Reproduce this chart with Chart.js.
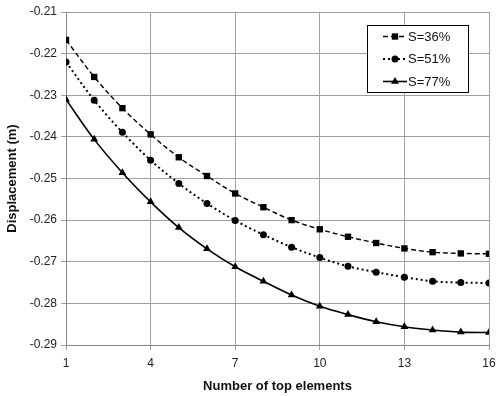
<!DOCTYPE html>
<html>
<head>
<meta charset="utf-8">
<script src="https://cdn.jsdelivr.net/npm/chart.js@4/dist/chart.umd.min.js"></script>
<style>
  html, body { margin: 0; padding: 0; background: #fff; }
  #wrap { width: 500px; height: 396px; }
</style>
</head>
<body>
<div id="wrap"><canvas id="dispChart" width="500" height="396"></canvas></div>
<script>
// number of top elements
const elements = [1, 2, 3, 4, 5, 6, 7, 8, 9, 10, 11, 12, 13, 14, 15, 16];
const seriesNames = ["S=36%", "S=51%", "S=77%"];
// displacement (m)
const s36 = [-0.2167, -0.2256, -0.2331, -0.2394, -0.2449, -0.2494, -0.2536, -0.2569,
             -0.2600, -0.2622, -0.2640, -0.2655, -0.2668, -0.2677, -0.2680, -0.2681];
const s51 = [-0.2220, -0.2312, -0.2389, -0.2456, -0.2512, -0.2560, -0.2601, -0.2635,
             -0.2665, -0.2690, -0.2711, -0.2725, -0.2737, -0.2747, -0.2750, -0.2751];
const s77 = [-0.2310, -0.2406, -0.2486, -0.2556, -0.2618, -0.2669, -0.2712, -0.2747,
             -0.2780, -0.2807, -0.2827, -0.2844, -0.2856, -0.2864, -0.2869, -0.2870];
const xTicks = [1, 4, 7, 10, 13, 16];
const yTicks = [-0.21, -0.22, -0.23, -0.24, -0.25, -0.26, -0.27, -0.28, -0.29];

function toPoints(vals) {
    return elements.map((x, i) => ({ x: x, y: vals[i] }));
}

// legend drawn in a box inside the plot, like the original
const boxLegend = {
    id: "boxLegend",
    afterDraw(chart) {
        const ctx = chart.ctx;
        const x0 = 367, y0 = 25, w = 101, h = 67;
        ctx.save();
        ctx.fillStyle = "#fff";
        ctx.fillRect(x0, y0, w, h);
        ctx.strokeStyle = "#000";
        ctx.lineWidth = 1;
        ctx.strokeRect(x0 + 0.5, y0 + 0.5, w, h);
        chart.data.datasets.forEach((ds, i) => {
            const y = 36.5 + i * 22.5;
            ctx.strokeStyle = ds.borderColor;
            ctx.lineWidth = ds.borderWidth;
            ctx.setLineDash(ds.borderDash || []);
            ctx.beginPath();
            ctx.moveTo(383, y);
            ctx.lineTo(407, y);
            ctx.stroke();
            ctx.setLineDash([]);
            ctx.fillStyle = ds.pointBackgroundColor;
            Chart.helpers.drawPoint(ctx, {
                pointStyle: ds.pointStyle,
                radius: ds.pointRadius,
                borderWidth: 0,
                rotation: 0
            }, 395, y);
            ctx.fillStyle = "#111";
            ctx.font = "13px 'Liberation Sans', Arial, sans-serif";
            ctx.textBaseline = "middle";
            ctx.fillText(ds.label, 408, y + 0.5);
        });
        ctx.restore();
    }
};

const ctx = document.getElementById("dispChart").getContext("2d");
new Chart(ctx, {
    type: "line",
    data: {
        datasets: [{
            label: seriesNames[0],
            data: toPoints(s36),
            borderColor: "#000",
            borderWidth: 1.4,
            borderDash: [5, 3],
            pointStyle: "rect",
            pointRadius: 4.5,
            pointBackgroundColor: "#000",
            pointBorderWidth: 0,
            tension: 0.35
        }, {
            label: seriesNames[1],
            data: toPoints(s51),
            borderColor: "#000",
            borderWidth: 2,
            borderDash: [2, 3],
            pointStyle: "circle",
            pointRadius: 3.5,
            pointBackgroundColor: "#000",
            pointBorderWidth: 0,
            tension: 0.35
        }, {
            label: seriesNames[2],
            data: toPoints(s77),
            borderColor: "#000",
            borderWidth: 1.6,
            pointStyle: "triangle",
            pointRadius: 4.5,
            pointBackgroundColor: "#000",
            pointBorderWidth: 0,
            tension: 0.35
        }]
    },
    options: {
        responsive: false,
        animation: false,
        layout: { padding: { top: 12, right: 11, left: 0, bottom: 0 } },
        plugins: {
            legend: { display: false },
            tooltip: { enabled: false }
        },
        scales: {
            x: {
                type: "linear",
                min: 1,
                max: 16,
                afterBuildTicks: (scale) => { scale.ticks = xTicks.map(v => ({ value: v })); },
                afterFit: (scale) => {
                    scale.height = 51;
                    scale.paddingRight = 0;
                    scale.paddingLeft = 0;
                },
                grid: { color: "#a0a0a0", tickLength: 5, lineWidth: 1 },
                border: { color: "#868686" },
                ticks: {
                    color: "#222",
                    font: { family: "'Liberation Sans', Arial, sans-serif", size: 12 },
                    padding: 6
                },
                title: {
                    display: true,
                    text: "Number of top elements",
                    color: "#111",
                    font: { family: "'Liberation Sans', Arial, sans-serif", size: 13, weight: "bold" },
                    padding: { top: 4, bottom: 2 }
                }
            },
            y: {
                type: "linear",
                min: -0.29,
                max: -0.21,
                afterBuildTicks: (scale) => { scale.ticks = yTicks.map(v => ({ value: v })); },
                afterFit: (scale) => { scale.width = 66; },
                grid: { color: "#a0a0a0", tickLength: 5, lineWidth: 1 },
                border: { color: "#868686" },
                ticks: {
                    color: "#222",
                    font: { family: "'Liberation Sans', Arial, sans-serif", size: 12 },
                    padding: 4,
                    callback: (v) => v.toFixed(2)
                },
                title: {
                    display: true,
                    text: "Displacement (m)",
                    color: "#111",
                    font: { family: "'Liberation Sans', Arial, sans-serif", size: 13, weight: "bold" },
                    padding: { top: 5, bottom: 2 }
                }
            }
        }
    },
    plugins: [boxLegend]
});
</script>
</body>
</html>
